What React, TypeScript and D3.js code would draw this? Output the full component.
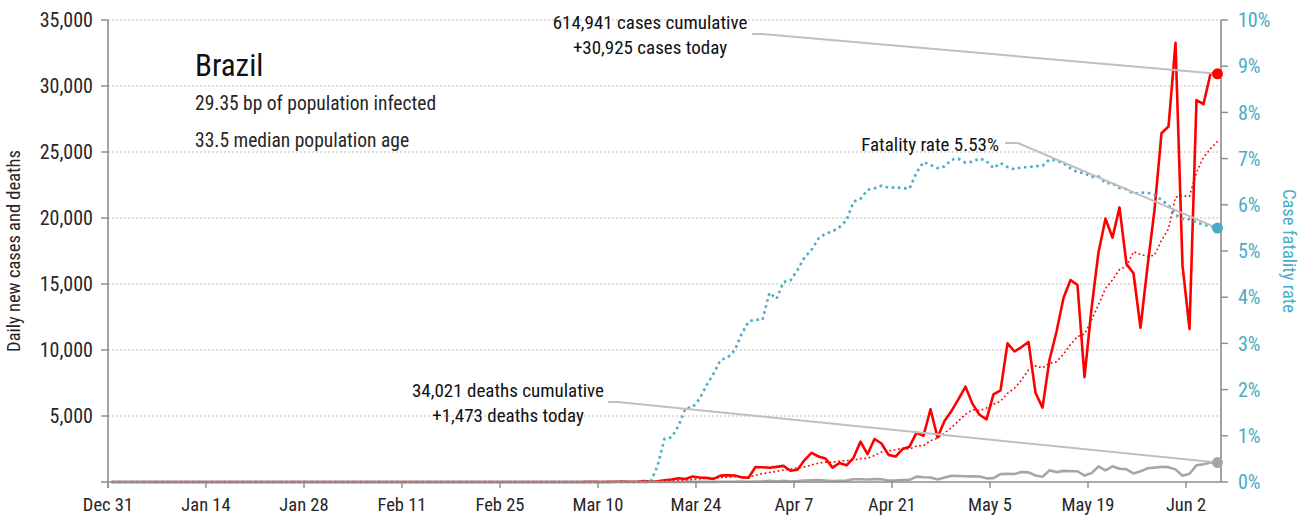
import React from "react";
import * as d3 from "d3";

// daily values (ECDC report dates); days before the first entry are zero
const firstDay = new Date(2019, 11, 31);
const axisEnd = new Date(2020, 5, 7);
const casesFrom = new Date(2020, 1, 26);
const deathsFrom = new Date(2020, 2, 18);

const newCases = [
    1, 0, 0, 1, 0, 0, 0, 0, 1, 5, 5, 6, 6, 0, 9, 18, 25, 21, 23, 79, 34, 57, 137, 193, 283, 224, 418, 345, 310, 232,
    482, 502, 487, 352, 323,
    1138, 1119, 1074, 1146, 1222, 852, 926, 1661, 2210, 1930, 1781, 1089, 1442, 1261, 1832, 3058, 2105, 3257, 2917,
    2055, 1927, 2498, 2678, 3735, 3503, 5514, 3379, 4613, 5385, 6276,
    7218, 5919, 5097, 4751, 6633, 6935, 10503, 9888, 10222, 10611, 6760, 5632, 9258, 11385, 13944, 15305, 14919,
    7938, 13140, 17408, 19951, 18508, 20803, 16508, 15813, 11687, 16324, 20599, 26417, 26928, 33274,
    16409, 11598, 28936, 28633, 30925, 30925,
];

const newDeaths = [
    1, 3, 2, 5, 7, 7, 9, 12, 11, 20, 15, 19, 25, 23,
    42, 39, 84, 35, 86, 41, 67, 114, 133, 141, 115, 68, 99, 105, 204, 204, 188, 217, 206, 115, 125, 154, 165, 407,
    357, 346, 189, 338, 474, 449,
    435, 428, 421, 275, 296, 600, 615, 610, 751, 730, 496, 396, 881, 749, 844, 824, 816, 485, 674, 1179, 888, 1188,
    1001, 965, 653, 807, 1039, 1086, 1156, 1124, 956,
    480, 623, 1262, 1349, 1473, 1473,
];

const leftTicks = [5000, 10000, 15000, 20000, 25000, 30000, 35000];
const rightTicks = [0, 0.01, 0.02, 0.03, 0.04, 0.05, 0.06, 0.07, 0.08, 0.09, 0.1];
const dateTicks = ["Dec 31", "Jan 14", "Jan 28", "Feb 11", "Feb 25", "Mar 10", "Mar 24", "Apr 7", "Apr 21", "May 5", "May 19", "Jun 2"];

const country = "Brazil";
const infoLines = ["29.35 bp of population infected", "33.5 median population age"];
const casesNote = ["614,941 cases cumulative", "+30,925 cases today"];
const deathsNote = ["34,021 deaths cumulative", "+1,473 deaths today"];
const rateNote = "Fatality rate 5.53%";

const FONT = "'Liberation Sans Narrow', 'Arial Narrow', 'Roboto Condensed', 'Liberation Sans', sans-serif";
const RED = "#ff0000";
const BLUE = "#4bacc6";
const GREY = "#a6a6a6";
const AXIS = "#8c8c8c";
const LEAD = "#bfbfbf";

const DAY = 864e5;

const App = () => {
    const width = 1312;
    const height = 520;
    const margin = { top: 20, right: 91, bottom: 38, left: 108 };
    const x0 = margin.left;
    const x1 = width - margin.right;
    const yTop = margin.top;
    const yBot = height - margin.bottom;

    const nDays = Math.round((new Date(2020, 5, 6).getTime() - firstDay.getTime()) / DAY) + 1;
    const days = d3.range(nDays).map((i) => d3.timeDay.offset(firstDay, i));
    const offC = Math.round((casesFrom.getTime() - firstDay.getTime()) / DAY);
    const offD = Math.round((deathsFrom.getTime() - firstDay.getTime()) / DAY);
    const cases = days.map((_, i) => (i >= offC ? newCases[i - offC] : 0));
    const deaths = days.map((_, i) => (i >= offD ? newDeaths[i - offD] : 0));
    const cumC = d3.cumsum(cases);
    const cumD = d3.cumsum(deaths);
    const rate = days.map((_, i) => (cumC[i] > 0 ? cumD[i] / cumC[i] : 0));
    const avg = days.map((_, i) => (i >= 6 ? d3.mean(cases.slice(i - 6, i + 1)) : null));

    const x = d3.scaleTime().domain([firstDay, axisEnd]).range([x0, x1]);
    const xd = (i: number) => x(new Date(days[i].getTime() + DAY / 2));
    const y = d3.scaleLinear().domain([0, 35000]).range([yBot, yTop]);
    const yr = d3.scaleLinear().domain([0, 0.1]).range([yBot, yTop]);

    const lineL = d3.line<number>().x((_, i) => xd(i)).y((d) => y(d));
    const lineR = d3.line<number>().x((_, i) => xd(i)).y((d) => yr(d));
    const avgPath = d3
        .line<number | null>()
        .defined((d) => d !== null)
        .x((_, i) => xd(i))
        .y((d) => y(d as number))(avg);

    const tickDates = dateTicks.map((_, i) => d3.timeDay.offset(firstDay, i * 14));
    const last = nDays - 1;
    const dotC = [xd(last), y(cases[last])];
    const dotD = [xd(last), y(deaths[last])];
    const dotR = [xd(last), yr(rate[last])];

    const txt = { fontFamily: FONT, fontStretch: "condensed" as const };

    return (
        <svg width={width} height={height} style={{ position: "absolute", left: 0, top: 0, background: "#fff" }}>
            {/* gridlines */}
            {leftTicks.map((t) => (
                <line key={t} x1={x0} x2={x1} y1={y(t)} y2={y(t)} stroke="#bdbdbd" strokeWidth={1.2} strokeDasharray="2,2" />
            ))}

            {/* series */}
            <path d={lineL(cases) || ""} fill="none" stroke={RED} strokeWidth={2.6} strokeLinejoin="round" />
            <path d={lineL(deaths) || ""} fill="none" stroke={GREY} strokeWidth={2.6} strokeLinejoin="round" />
            <path d={lineR(rate) || ""} fill="none" stroke={BLUE} strokeWidth={2.6} strokeDasharray="2.6,3.6" />
            <path d={avgPath || ""} fill="none" stroke={RED} strokeWidth={1.6} strokeDasharray="1.8,2.6" />

            {/* axes */}
            <line x1={x0 - 7} x2={x1} y1={yBot} y2={yBot} stroke={AXIS} strokeWidth={1.6} />
            <line x1={x0} x2={x0} y1={yTop} y2={yBot + 6} stroke={AXIS} strokeWidth={1.6} />
            <line x1={x1} x2={x1} y1={yTop} y2={yBot} stroke={AXIS} strokeWidth={1.6} />
            {leftTicks.map((t) => (
                <g key={t}>
                    <line x1={x0 - 7} x2={x0} y1={y(t)} y2={y(t)} stroke={AXIS} strokeWidth={1.4} />
                    <text x={x0 - 15} y={y(t)} dy="0.36em" textAnchor="end" fontSize={20} fill="#262626" {...txt}>
                        {d3.format(",")(t)}
                    </text>
                </g>
            ))}
            {rightTicks.map((t) => (
                <g key={t}>
                    <line x1={x1} x2={x1 + 7} y1={yr(t)} y2={yr(t)} stroke={AXIS} strokeWidth={1.4} />
                    <text x={x1 + 17} y={yr(t)} dy="0.36em" fontSize={20} fill={BLUE} {...txt}>
                        {d3.format(".0%")(t)}
                    </text>
                </g>
            ))}
            {tickDates.map((d, i) => (
                <g key={i}>
                    <line x1={x(d)} x2={x(d)} y1={yBot} y2={yBot + 6} stroke={AXIS} strokeWidth={1.4} />
                    <text x={x(d)} y={yBot + 29} textAnchor="middle" fontSize={18.5} fill="#262626" {...txt}>
                        {dateTicks[i]}
                    </text>
                </g>
            ))}
            <text transform={`translate(20,${(yTop + yBot) / 2}) rotate(-90)`} textAnchor="middle" fontSize={18.5} fill="#262626" {...txt}>
                Daily new cases and deaths
            </text>
            <text transform={`translate(1283,${(yTop + yBot) / 2}) rotate(90)`} textAnchor="middle" fontSize={18.5} fill={BLUE} {...txt}>
                Case fatality rate
            </text>

            {/* title block */}
            <text x={195} y={76} fontSize={31} fill="#111" {...txt}>{country}</text>
            {infoLines.map((s, i) => (
                <text key={s} x={195} y={110 + i * 37} fontSize={19.5} fill="#262626" {...txt}>{s}</text>
            ))}

            {/* annotations */}
            <polyline points={`752,34 762,34 ${dotC[0]},${dotC[1]}`} fill="none" stroke={LEAD} strokeWidth={2} />
            <polyline points={`1005,143 1018,143 ${dotR[0]},${dotR[1]}`} fill="none" stroke={LEAD} strokeWidth={2} />
            <polyline points={`608,402 618,402 ${dotD[0]},${dotD[1]}`} fill="none" stroke={LEAD} strokeWidth={2} />
            <circle cx={dotC[0]} cy={dotC[1]} r={5.5} fill={RED} />
            <circle cx={dotR[0]} cy={dotR[1]} r={5.5} fill={BLUE} />
            <circle cx={dotD[0]} cy={dotD[1]} r={5.5} fill={GREY} />
            {casesNote.map((s, i) => (
                <text key={s} x={650} y={29 + i * 25} textAnchor="middle" fontSize={19} fill="#111" {...txt}>{s}</text>
            ))}
            {deathsNote.map((s, i) => (
                <text key={s} x={508} y={397 + i * 25} textAnchor="middle" fontSize={19} fill="#111" {...txt}>{s}</text>
            ))}
            <text x={999} y={151} textAnchor="end" fontSize={19} fill="#111" {...txt}>{rateNote}</text>
        </svg>
    );
};

export default App;
